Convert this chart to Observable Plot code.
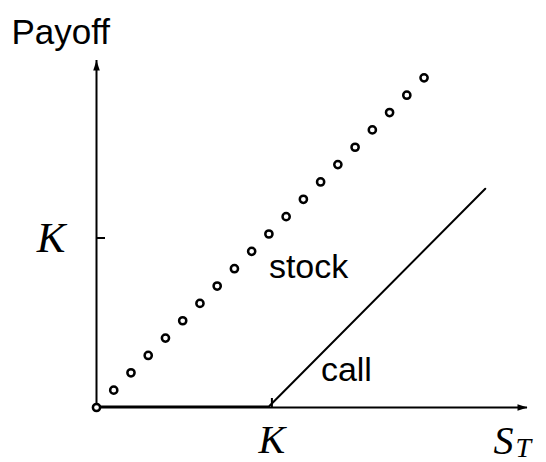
<!DOCTYPE html>
<html><head><meta charset="utf-8">
<script src="https://cdn.jsdelivr.net/npm/d3@7"></script>
<script src="https://cdn.jsdelivr.net/npm/@observablehq/plot@0.6"></script>
<style>html,body{margin:0;padding:0;background:#fff}#chart svg{display:block}</style>
</head><body><div id="chart"></div>
<script>
// ---- data ----
const K = 10;                       // strike
const xMax = 25, yMax = 20;         // axis extents (arrow tips)
const stockX = [0,1,2,3,4,5,6,7,8,9,10,11,12,13,14,15,16,17,18,19];
const stockY = [0,1,2,3,4,5,6,7,8,9,10,11,12,13,14,15,16,17,18,19];
const callX = [0, 10, 22.55];
const callY = [0, 0, 12.55];
const seriesLabels = ["stock", "call"];
const yTitle = "Payoff";
const xTickLabel = "K", yTickLabel = "K";
const xAxisSymbol = "S", xAxisSub = "T";

const stock = stockX.map((x, i) => ({x, y: stockY[i]}));
const call = callX.map((x, i) => ({x, y: callY[i]}));

const arrowHead = {draw(ctx) { ctx.moveTo(0, 0); ctx.lineTo(-10, -3.3); ctx.lineTo(-10, 3.3); ctx.closePath(); }};
const sans = "Liberation Sans, Arial, sans-serif";
const serif = "Liberation Serif, Times New Roman, serif";

const chart = Plot.plot({
  width: 546, height: 462,
  marginLeft: 96, marginRight: 19, marginTop: 60, marginBottom: 55,
  x: {type: "linear", domain: [0, xMax]},
  y: {type: "linear", domain: [0, yMax]},
  marks: [
    Plot.ruleY([0], {stroke: "black", strokeWidth: 2}),
    Plot.ruleX([0], {stroke: "black", strokeWidth: 2}),
    Plot.dot([{x: xMax, y: 0}], {x: "x", y: "y", symbol: arrowHead, r: 5, fill: "black", stroke: "none"}),
    Plot.dot([{x: 0, y: yMax}], {x: "x", y: "y", symbol: arrowHead, r: 5, fill: "black", stroke: "none", rotate: -90}),
    Plot.axisX([K], {tickSize: -9, tickPadding: 26, tickFormat: () => xTickLabel, fontSize: 40, fontFamily: serif, fontStyle: "italic", label: null, stroke: "black", strokeWidth: 2, fill: "black", dx: 3}),
    Plot.axisY([K], {tickSize: -9, tickPadding: 40, tickFormat: () => yTickLabel, fontSize: 43, fontFamily: serif, fontStyle: "italic", label: null, stroke: "black", strokeWidth: 2, fill: "black", dy: 4}),
    Plot.line(call, {x: "x", y: "y", stroke: "black", strokeWidth: 2, dy: -1}),
    Plot.dot(stock, {x: "x", y: "y", r: 3.6, stroke: "black", strokeWidth: 2.5, fill: "white"}),
    Plot.text([{x: K, y: K, t: seriesLabels[0]}], {x: "x", y: "y", text: "t", textAnchor: "start", lineAnchor: "bottom", dx: 0, dy: 43.5, fontSize: 34, fontFamily: sans, fill: "black"}),
    Plot.text([{x: K, y: 0, t: seriesLabels[1]}], {x: "x", y: "y", text: "t", textAnchor: "start", lineAnchor: "bottom", dx: 52, dy: -27, fontSize: 34, fontFamily: sans, fill: "black"}),
    Plot.text([{x: 0, y: yMax, t: yTitle}], {x: "x", y: "y", text: "t", textAnchor: "start", lineAnchor: "bottom", dx: -85, dy: -17, fontSize: 35, fontFamily: sans, fill: "black"}),
    Plot.text([{x: xMax, y: 0, t: xAxisSymbol}], {x: "x", y: "y", text: "t", textAnchor: "start", lineAnchor: "bottom", dx: -34, dy: 46, fontSize: 40, fontFamily: serif, fontStyle: "italic", fill: "black"}),
    Plot.text([{x: xMax, y: 0, t: xAxisSub}], {x: "x", y: "y", text: "t", textAnchor: "start", lineAnchor: "bottom", dx: -12, dy: 49, fontSize: 28, fontFamily: serif, fontStyle: "italic", fill: "black"})
  ]
});
document.getElementById("chart").append(chart);
</script>
</body></html>
